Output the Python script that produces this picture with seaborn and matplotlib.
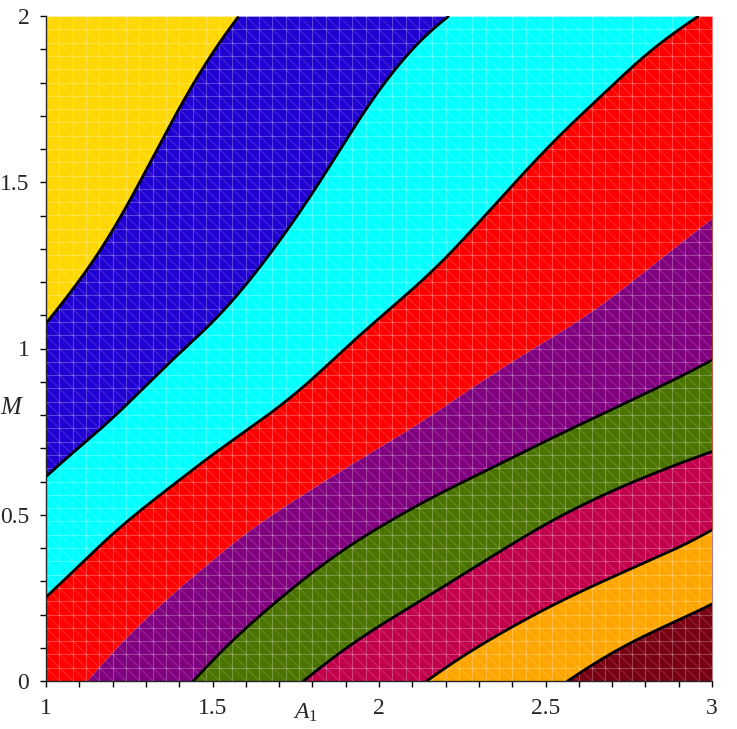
import numpy as np
import matplotlib
matplotlib.use("Agg")
import matplotlib.pyplot as plt
import seaborn as sns
from matplotlib.ticker import MultipleLocator

# granice obszarow (A1, M), od lewego gornego rogu
b1_a = [1.0, 1.082, 1.182, 1.282, 1.342, 1.412, 1.483, 1.543, 1.577]
b1_m = [1.075, 1.176, 1.316, 1.497, 1.617, 1.750, 1.868, 1.958, 2.0]

b2_a = [1.0, 1.082, 1.182, 1.282, 1.382, 1.502, 1.583, 1.683, 1.783, 1.883, 1.943, 2.003, 2.068, 2.138, 2.208]
b2_m = [0.615, 0.690, 0.770, 0.870, 0.971, 1.076, 1.166, 1.296, 1.437, 1.597, 1.697, 1.787, 1.868, 1.948, 2.0]

b3_a = [1.0, 1.082, 1.182, 1.282, 1.382, 1.483, 1.583, 1.683, 1.783, 1.903, 1.988, 2.088, 2.188,
        2.288, 2.388, 2.488, 2.588, 2.688, 2.789, 2.889, 2.959]
b3_m = [0.252, 0.329, 0.429, 0.514, 0.589, 0.670, 0.740, 0.810, 0.890, 1.006, 1.081, 1.166, 1.256,
        1.366, 1.477, 1.587, 1.687, 1.777, 1.878, 1.953, 2.0]

# granica czerwony/fioletowy - bez czarnej linii
b4_a = [1.122, 1.2, 1.3, 1.4, 1.5, 1.613, 1.713, 1.813, 1.913, 2.013, 2.113, 2.188,
        2.288, 2.388, 2.478, 2.588, 2.688, 2.789, 2.889, 3.0]
b4_m = [0.0, 0.092, 0.192, 0.282, 0.365, 0.459, 0.524, 0.589, 0.650, 0.712, 0.770, 0.822,
        0.890, 0.955, 1.011, 1.076, 1.146, 1.226, 1.306, 1.392]

b5_a = [1.442, 1.532, 1.613, 1.713, 1.813, 1.913, 2.013, 2.113, 2.213, 2.313, 2.413, 2.513,
        2.613, 2.713, 2.813, 2.913, 3.0]
b5_m = [0.0, 0.098, 0.172, 0.258, 0.338, 0.410, 0.470, 0.528, 0.580, 0.628, 0.678, 0.728,
        0.776, 0.823, 0.871, 0.918, 0.965]

b6_a = [1.773, 1.863, 1.963, 2.063, 2.163, 2.273, 2.388, 2.488, 2.588, 2.688, 2.789, 2.889, 3.0]
b6_m = [0.0, 0.073, 0.143, 0.204, 0.264, 0.334, 0.405, 0.466, 0.519, 0.567, 0.610, 0.650, 0.690]

b7_a = [2.143, 2.238, 2.338, 2.438, 2.538, 2.639, 2.739, 2.839, 2.939, 3.0]
b7_m = [0.0, 0.068, 0.128, 0.185, 0.237, 0.285, 0.330, 0.374, 0.418, 0.454]

b8_a = [2.566, 2.639, 2.739, 2.839, 2.939, 3.0]
b8_m = [0.0, 0.050, 0.108, 0.157, 0.200, 0.231]

kolory = ["#FFD700", "#2000D2", "#00FFFF", "#FF0000", "#800080",
          "#4A7300", "#C2004B", "#FFA500", "#780012"]

x_ticks = [1, 1.5, 2, 2.5, 3]
x_labels = ["1", "1.5", "2", "2.5", "3"]
y_ticks = [0, 0.5, 1, 1.5, 2]
y_labels = ["0", "0.5", "1", "1.5", "2"]

granice = [(b1_a, b1_m), (b2_a, b2_m), (b3_a, b3_m), (b4_a, b4_m),
           (b5_a, b5_m), (b6_a, b6_m), (b7_a, b7_m), (b8_a, b8_m)]
z_linia = [True, True, True, False, True, True, True, True]

sns.set_style("ticks")
plt.rcParams["font.family"] = ["Liberation Serif", "DejaVu Serif"]
plt.rcParams["mathtext.fontset"] = "custom"
plt.rcParams["mathtext.rm"] = "Liberation Serif"
plt.rcParams["mathtext.it"] = "Liberation Serif:italic"

fig = plt.figure(figsize=(7.37, 7.29), dpi=100)
ax = fig.add_axes([46 / 737, 48 / 729, 666 / 737, 665 / 729])


def wygladz(a, m, krok=0.002, sigma=0.06):
    # lamana przez odczytane punkty + wygladzenie gaussem (konce przedluzone liniowo)
    a = np.asarray(a, float)
    m = np.asarray(m, float)
    xg = np.arange(a[0], a[-1] + krok / 2, krok)
    yg = np.interp(xg, a, m)
    n = int(4 * sigma / krok)
    s0 = (m[1] - m[0]) / (a[1] - a[0])
    s1 = (m[-1] - m[-2]) / (a[-1] - a[-2])
    lewo = yg[0] - s0 * krok * np.arange(n, 0, -1)
    prawo = yg[-1] + s1 * krok * np.arange(1, n + 1)
    pelne = np.concatenate([lewo, yg, prawo])
    k = np.exp(-0.5 * (np.arange(-n, n + 1) * krok / sigma) ** 2)
    k /= k.sum()
    ys = np.convolve(pelne, k, mode="valid")
    return xg, ys


xs = np.linspace(1, 3, 1200)
krzywe = []
gladkie = []
for a, m in granice:
    xg, yg = wygladz(a, m)
    gladkie.append((xg, yg))
    y = np.interp(xs, xg, yg, left=0.0, right=2.0)
    krzywe.append(np.clip(y, 0, 2))

gora = [np.full_like(xs, 2.0)] + krzywe
dol = krzywe + [np.zeros_like(xs)]
for g, d, c in zip(gora, dol, kolory):
    ax.fill_between(xs, d, g, color=c, linewidth=0, zorder=1)

# siatka trojkatow jak w Maple
for v in np.linspace(1, 3, 51):
    ax.plot([v, v], [0, 2], color="white", alpha=0.26, lw=0.8, zorder=1.5)
for h in np.linspace(0, 2, 51):
    ax.plot([1, 3], [h, h], color="white", alpha=0.26, lw=0.8, zorder=1.5)
for c in np.arange(1.0, 5.0001, 0.04):
    ax.plot([c - 2, c], [2, 0], color="white", alpha=0.18, lw=0.7, zorder=1.5)

for (xg, yg), lin in zip(gladkie, z_linia):
    if lin:
        sns.lineplot(x=xg, y=yg, ax=ax, color="black", lw=2.0, sort=False,
                     estimator=None, zorder=3)

ax.set_xlim(1, 3)
ax.set_ylim(0, 2)
sns.despine(ax=ax)
ax.spines["left"].set_linewidth(1.0)
ax.spines["bottom"].set_linewidth(1.0)
ax.spines["left"].set_zorder(4)
ax.spines["bottom"].set_zorder(4)

ax.set_xticks(x_ticks)
ax.set_xticklabels(x_labels)
ax.set_yticks(y_ticks)
ax.set_yticklabels(y_labels)
ax.xaxis.set_minor_locator(MultipleLocator(0.1))
ax.yaxis.set_minor_locator(MultipleLocator(0.1))
ax.tick_params(which="both", direction="out", length=4, width=1, color="black")
ax.tick_params(axis="x", which="major", labelsize=17, pad=8)
ax.tick_params(axis="y", which="major", labelsize=17, pad=8)

ax.set_xlabel("")
ax.set_ylabel("")
ax.text(0.39, -0.048, "$A_1$", transform=ax.transAxes, fontsize=17,
        ha="center", va="center")
ax.text(-0.051, 0.41, "$M$", transform=ax.transAxes, fontsize=18,
        ha="center", va="center")

fig.savefig("out.png", dpi=100)
plt.close(fig)
